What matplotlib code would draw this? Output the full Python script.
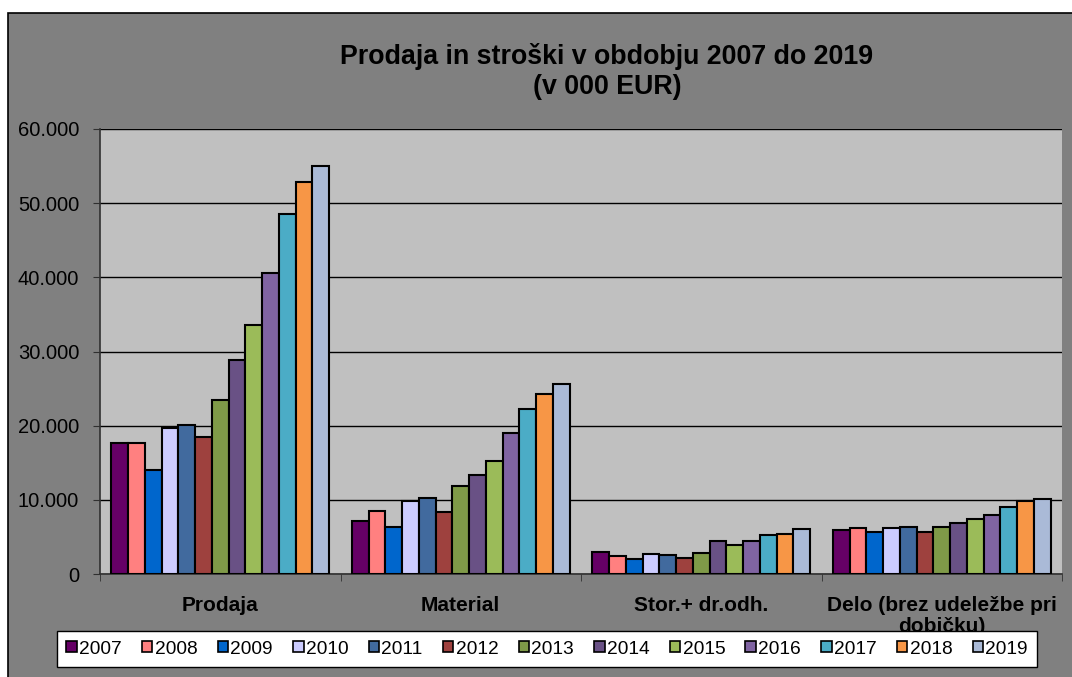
import numpy as np
import matplotlib
matplotlib.use("Agg")
import matplotlib.pyplot as plt
from matplotlib.patches import Rectangle
from matplotlib.ticker import FuncFormatter, MultipleLocator

plt.rcParams['font.family'] = ['Liberation Sans', 'DejaVu Sans']

# data (v 000 EUR)
categories = ["Prodaja", "Material", "Stor.+ dr.odh.", "Delo (brez udeležbe pri\ndobičku)"]
years = ["2007", "2008", "2009", "2010", "2011", "2012", "2013",
         "2014", "2015", "2016", "2017", "2018", "2019"]
prodaja = [17700, 17650, 14000, 19700, 20100, 18500, 23400, 28900, 33600, 40600, 48600, 52900, 55000]
material = [7100, 8500, 6400, 9900, 10200, 8300, 11900, 13400, 15300, 19000, 22200, 24300, 25600]
stor_drodh = [2900, 2400, 2050, 2700, 2550, 2200, 2850, 4500, 3900, 4500, 5300, 5400, 6100]
delo = [5950, 6200, 5600, 6150, 6300, 5700, 6300, 6900, 7350, 8000, 9000, 9800, 10100]
colors = ["#660066", "#FF8080", "#0066CC", "#CCCCFF", "#416A9E", "#9E413E", "#7F9A48",
          "#695185", "#9BBB59", "#8064A2", "#4BACC6", "#F79646", "#AABAD7"]

values = np.array([prodaja, material, stor_drodh, delo])  # shape (cat, year)

W, H = 1072, 677
fig = plt.figure(figsize=(W / 100, H / 100), dpi=100, facecolor="white")

# gray chart area with border line at left/top
fig.patches.append(Rectangle((8 / W, -0.1), 1.2, (H - 13) / H + 0.1, transform=fig.transFigure,
                             facecolor="#808080", edgecolor="black", linewidth=1.2, zorder=-10))

ax = fig.add_axes([100 / W, (H - 574) / H, (1062 - 100) / W, (574 - 129) / H])
ax.set_facecolor("#C0C0C0")

n_years = len(years)
bar_w = 0.905 / n_years
x = np.arange(len(categories))
for i in range(n_years):
    offs = (i - (n_years - 1) / 2) * bar_w
    ax.bar(x + offs, values[:, i], width=bar_w, color=colors[i], edgecolor="black",
           linewidth=1.5, label=years[i], zorder=3)

ax.set_xlim(-0.5, len(categories) - 0.5)
ax.set_ylim(0, 60000)
ax.yaxis.set_major_locator(MultipleLocator(10000))
ax.yaxis.set_major_formatter(FuncFormatter(lambda v, p: f"{int(v):,}".replace(",", ".")))
ax.grid(axis="y", color="black", linewidth=1.0, zorder=1)

ax.set_xticks(x)
ax.set_xticklabels(categories, fontweight="bold", fontsize=15, linespacing=1.1)
ax.set_xticks(np.arange(len(categories) + 1) - 0.5, minor=True)
ax.tick_params(axis="x", which="major", length=0, pad=16)
ax.tick_params(axis="x", which="minor", length=5, direction="out", color="#303030")
ax.tick_params(axis="y", length=5, direction="out", color="#303030", labelsize=14.5, pad=10)

for side in ["top", "right"]:
    ax.spines[side].set_visible(False)
for side in ["left", "bottom"]:
    ax.spines[side].set_color("#303030")
    ax.spines[side].set_linewidth(1.2)

fig.text(607 / W, 1 - 71 / H, "Prodaja in stroški v obdobju 2007 do 2019\n(v 000 EUR)",
         ha="center", va="center", fontsize=19.3, fontweight="bold", linespacing=1.2)

leg = fig.legend(loc="center", bbox_to_anchor=(547 / W, (H - 649) / H), ncol=n_years,
                 fontsize=13.8, frameon=True, fancybox=False, framealpha=1,
                 edgecolor="black", handlelength=0.55, handleheight=0.55,
                 handletextpad=0.12, columnspacing=1.05, borderpad=0.5)
leg.get_frame().set_linewidth(1.0)
leg.set_zorder(10)
for h in leg.legend_handles:
    h.set_linewidth(1.2)

fig.savefig("out.png", dpi=100, facecolor=fig.get_facecolor())
